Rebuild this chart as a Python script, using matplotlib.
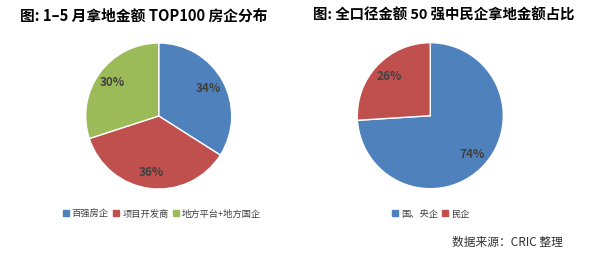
import matplotlib.pyplot as plt
from matplotlib.lines import Line2D

plt.rcParams['font.family'] = ['Noto Sans CJK SC', 'DejaVu Sans']

TITLE_1 = "图: 1–5 月拿地金额 TOP100 房企分布"
TITLE_2 = "图: 全口径金额 50 强中民企拿地金额占比"
SOURCE = "数据来源：CRIC 整理"

labels_1 = ["百强房企", "项目开发商", "地方平台+地方国企"]
values_1 = [34, 36, 30]
labels_2 = ["国、央企", "民企"]
values_2 = [74, 26]

BLUE = "#4F81BD"
RED = "#C0504D"
GREEN = "#9BBB59"
TEXT = "#404040"

W, H = 597, 259


def px_axes(fig, cx, cy, r):
    return fig.add_axes([(cx - r) / W, (H - cy - r) / H, 2 * r / W, 2 * r / H])


def draw_pie(ax, values, colors):
    ax.pie(values, colors=colors, startangle=90, counterclock=False,
           autopct="%d%%", pctdistance=0.78,
           wedgeprops=dict(edgecolor="white", linewidth=1),
           textprops=dict(color=TEXT, fontsize=8.5, fontweight="bold"))
    ax.set_xlim(-1, 1)
    ax.set_ylim(-1, 1)
    ax.set_aspect("auto")


def square(color):
    return Line2D([], [], marker="s", linestyle="", markersize=4,
                  markerfacecolor=color, markeredgecolor=color)


def add_legend(fig, colors, labels, x):
    fig.legend(handles=[square(c) for c in colors], labels=labels,
               loc="center left", bbox_to_anchor=(x / W, 1 - 214 / H),
               ncol=len(labels), frameon=False, fontsize=6.7,
               handlelength=0.6, handletextpad=0.35, columnspacing=0.5,
               labelcolor=TEXT, borderpad=0, borderaxespad=0)


fig = plt.figure(figsize=(W / 100, H / 100), dpi=100)

ax1 = px_axes(fig, 158.7, 116, 73)
draw_pie(ax1, values_1, [BLUE, RED, GREEN])
ax2 = px_axes(fig, 430.3, 115.7, 73)
draw_pie(ax2, values_2, [BLUE, RED])

fig.text(20 / W, 1 - 16 / H, TITLE_1, fontsize=10.6, fontweight="bold",
         va="center", ha="left", color="black")
fig.text(313 / W, 1 - 16 / H, TITLE_2, fontsize=10.4, fontweight="bold",
         va="center", ha="left", color="black")

add_legend(fig, [BLUE, RED, GREEN], labels_1, 63)
add_legend(fig, [BLUE, RED], labels_2, 392)

fig.text(452 / W, 1 - 242 / H, SOURCE, fontsize=8.5, va="center", ha="left",
         color="#333333")

fig.savefig("out.png", dpi=100)
